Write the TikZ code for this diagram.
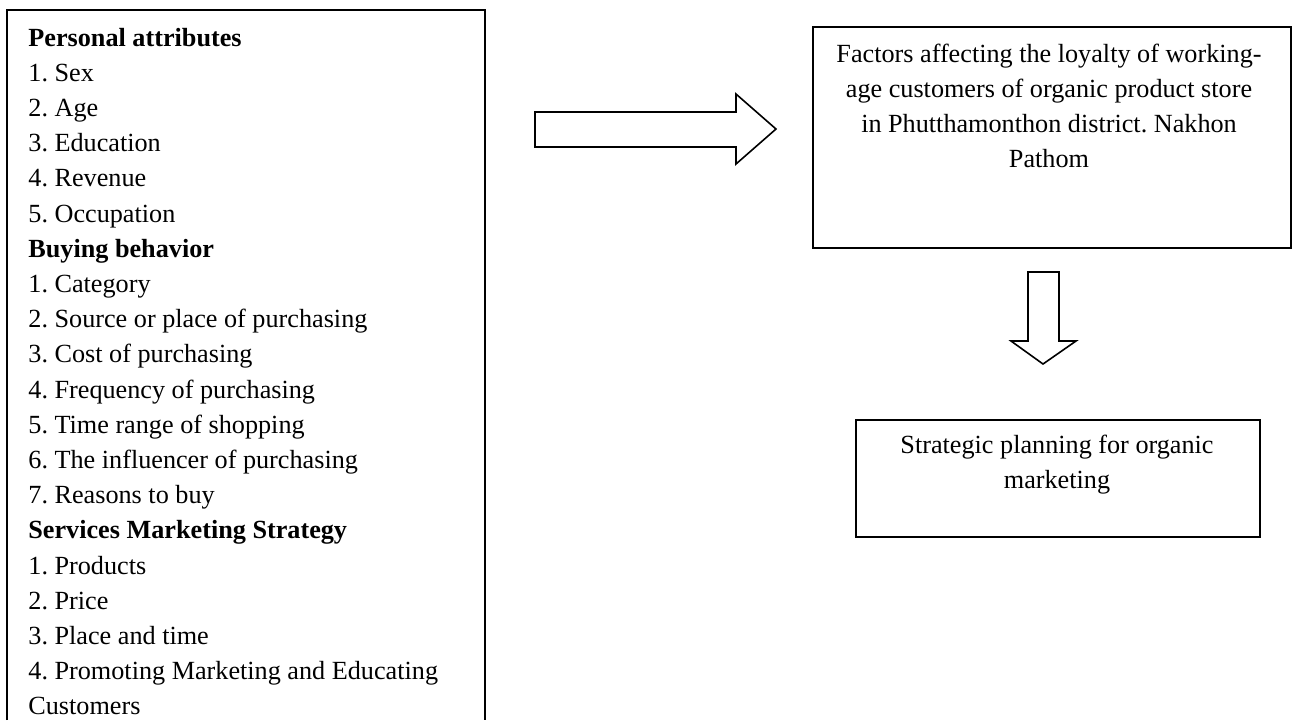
\documentclass[tikz,border=0pt]{standalone}
\usepackage{fontspec}
\setmainfont{Liberation Serif}
\frenchspacing
\begin{document}
\begin{tikzpicture}[x=0.5pt,y=-0.5pt,
  frame/.style={draw=black,line width=1pt},
  blockarrow/.style={draw=black,line width=0.8pt,fill=white,line join=miter},
  txt/.style={inner sep=0pt,anchor=base,font=\fontsize{13.1pt}{17.6pt}\selectfont},
  boxstyle/.style={frame,inner sep=0pt,anchor=north west}]
\useasboundingbox[fill=white] (0,0) rectangle (1294,720);

% left panel: open frame running off the bottom edge
\draw[frame] (7,720) -- (7,10) -- (485,10) -- (485,720);
\node[txt,anchor=base west] (attrs) at (28,46)
  {\parbox[t]{228pt}{\raggedright
   \textbf{Personal attributes}\\
   1. Sex\\
   2. Age\\
   3. Education\\
   4. Revenue\\
   5. Occupation\\
   \textbf{Buying behavior}\\
   1. Category\\
   2. Source or place of purchasing\\
   3. Cost of purchasing\\
   4. Frequency of purchasing\\
   5. Time range of shopping\\
   6. The influencer of purchasing\\
   7. Reasons to buy\\
   \textbf{Services Marketing Strategy}\\
   1. Products\\
   2. Price\\
   3. Place and time\\
   4. Promoting Marketing and Educating\\
   Customers}};

% factors box
\node[boxstyle,minimum width=239pt,minimum height=110.5pt] (factorsbox) at (812,26) {};
\node[txt] (factors) at (1049,62)
  {\parbox[t]{236pt}{\centering
   Factors affecting the loyalty of working-\\
   age customers of organic product store\\
   in Phutthamonthon district. Nakhon\\
   Pathom}};

% strategy box
\node[boxstyle,minimum width=202pt,minimum height=58.5pt] (planbox) at (855,419) {};
\node[txt] (plan) at (1057,453)
  {\parbox[t]{200pt}{\centering
   Strategic planning for organic\\
   marketing}};

% block arrow to the right
\draw[blockarrow] (535,112) -- (736,112) -- (736,94) -- (776,129)
  -- (736,164) -- (736,147) -- (535,147) -- cycle;

% block arrow downwards
\draw[blockarrow] (1028,272) -- (1059,272) -- (1059,341) -- (1076,341)
  -- (1043,364) -- (1011,341) -- (1028,341) -- cycle;
\end{tikzpicture}
\end{document}
